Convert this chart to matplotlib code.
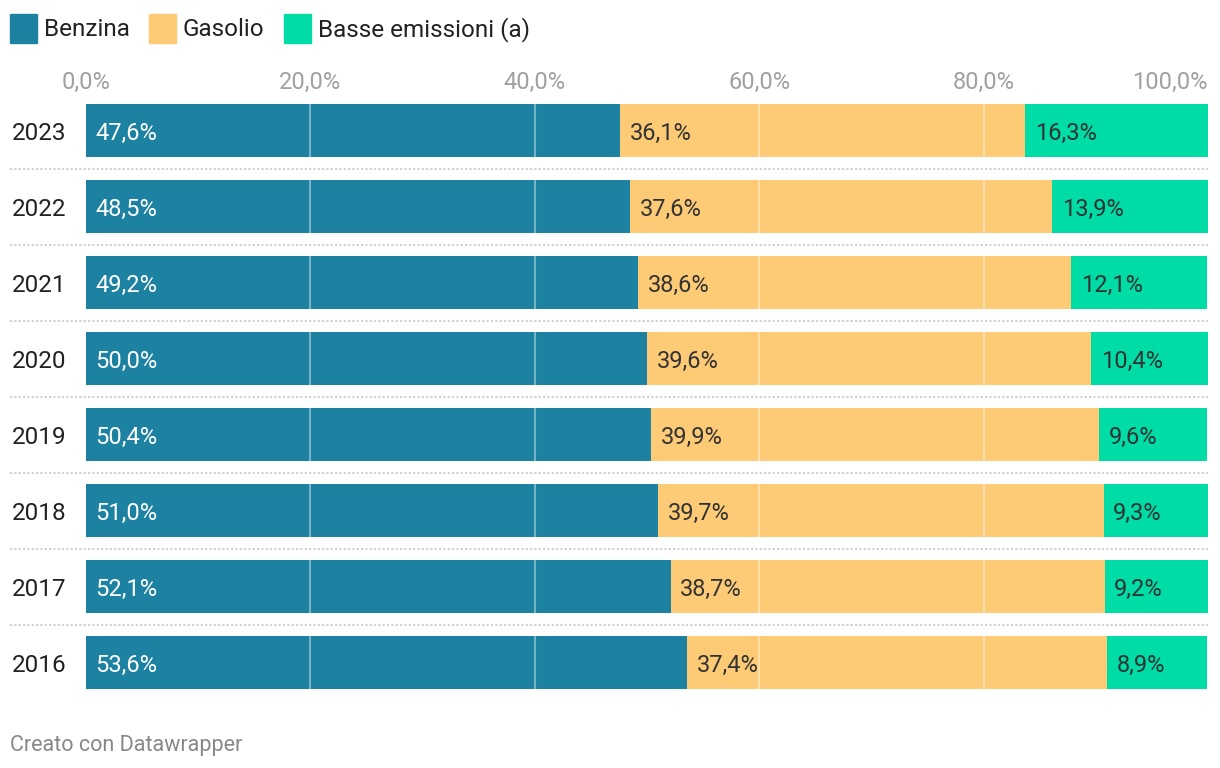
import matplotlib
matplotlib.use("Agg")
import matplotlib.pyplot as plt
from matplotlib.patches import Rectangle

plt.rcParams['font.family'] = ['Roboto', 'DejaVu Sans']

years = ["2023", "2022", "2021", "2020", "2019", "2018", "2017", "2016"]
benzina = [47.6, 48.5, 49.2, 50.0, 50.4, 51.0, 52.1, 53.6]
gasolio = [36.1, 37.6, 38.6, 39.6, 39.9, 39.7, 38.7, 37.4]
basse = [16.3, 13.9, 12.1, 10.4, 9.6, 9.3, 9.2, 8.9]
series_names = ["Benzina", "Gasolio", "Basse emissioni (a)"]
colors = ["#1d81a2", "#fdca76", "#00dca6"]
label_colors = ["#ffffff", "#333333", "#333333"]
ticks = [0, 20, 40, 60, 80, 100]
tick_labels = ["0,0%", "20,0%", "40,0%", "60,0%", "80,0%", "100,0%"]

W, H = 1220, 768
fig = plt.figure(figsize=(W / 100, H / 100), dpi=100)
ax = fig.add_axes([86 / W, 1 - 700.5 / H, (1208 - 86) / W, (700.5 - 92.5) / H])
ax.set_xlim(0, 100)
ax.set_ylim(len(years) - 0.5, -0.5)
ax.axis("off")

ypos = list(range(len(years)))
bar_h = 53 / 76
series = [benzina, gasolio, basse]
left = [0.0] * len(years)
for s, vals in enumerate(series):
    ax.barh(ypos, vals, left=left, height=bar_h, color=colors[s], zorder=2, linewidth=0)
    for i, v in enumerate(vals):
        ax.text(left[i] + 0.85, ypos[i], f"{v:.1f}%".replace(".", ","),
                ha="left", va="center_baseline", fontsize=17, color=label_colors[s], zorder=4)
    left = [l + v for l, v in zip(left, vals)]

# translucent gridlines on the bars
for i in ypos:
    for t in ticks[1:-1]:
        ax.plot([t, t], [i - bar_h / 2, i + bar_h / 2], color="white", alpha=0.4,
                lw=1.5, zorder=3, solid_capstyle="butt")

# dotted separators
for i in ypos[:-1]:
    ax.plot([-6.8, 100], [i + 0.5, i + 0.5], color="#cccccc", lw=1.3,
            linestyle=(0, (1.2, 1.2)), zorder=1, clip_on=False)

# year labels
for i, y in enumerate(years):
    ax.text(-6.6, i, y, ha="left", va="center_baseline", fontsize=17.5, color="#222222")

# x tick labels on top
for t, lab in zip(ticks, tick_labels):
    ha = "right" if t == 100 else "center"
    ax.text(t, -0.66, lab, ha=ha, va="center_baseline", fontsize=17, color="#a0a0a0")

# legend
leg_x = [10, 149, 284]
for x, name, c in zip(leg_x, series_names, colors):
    fig.patches.append(Rectangle((x / W, 1 - 43 / H), 27 / W, 29 / H,
                                 transform=fig.transFigure, color=c))
    fig.text((x + 34) / W, 1 - 27 / H, name, ha="left", va="center_baseline",
             fontsize=17.5, color="#222222")

fig.text(10 / W, 1 - 743 / H, "Creato con Datawrapper", ha="left", va="center_baseline",
         fontsize=15.5, color="#888888")

fig.savefig("out.png", dpi=100, facecolor="white")
